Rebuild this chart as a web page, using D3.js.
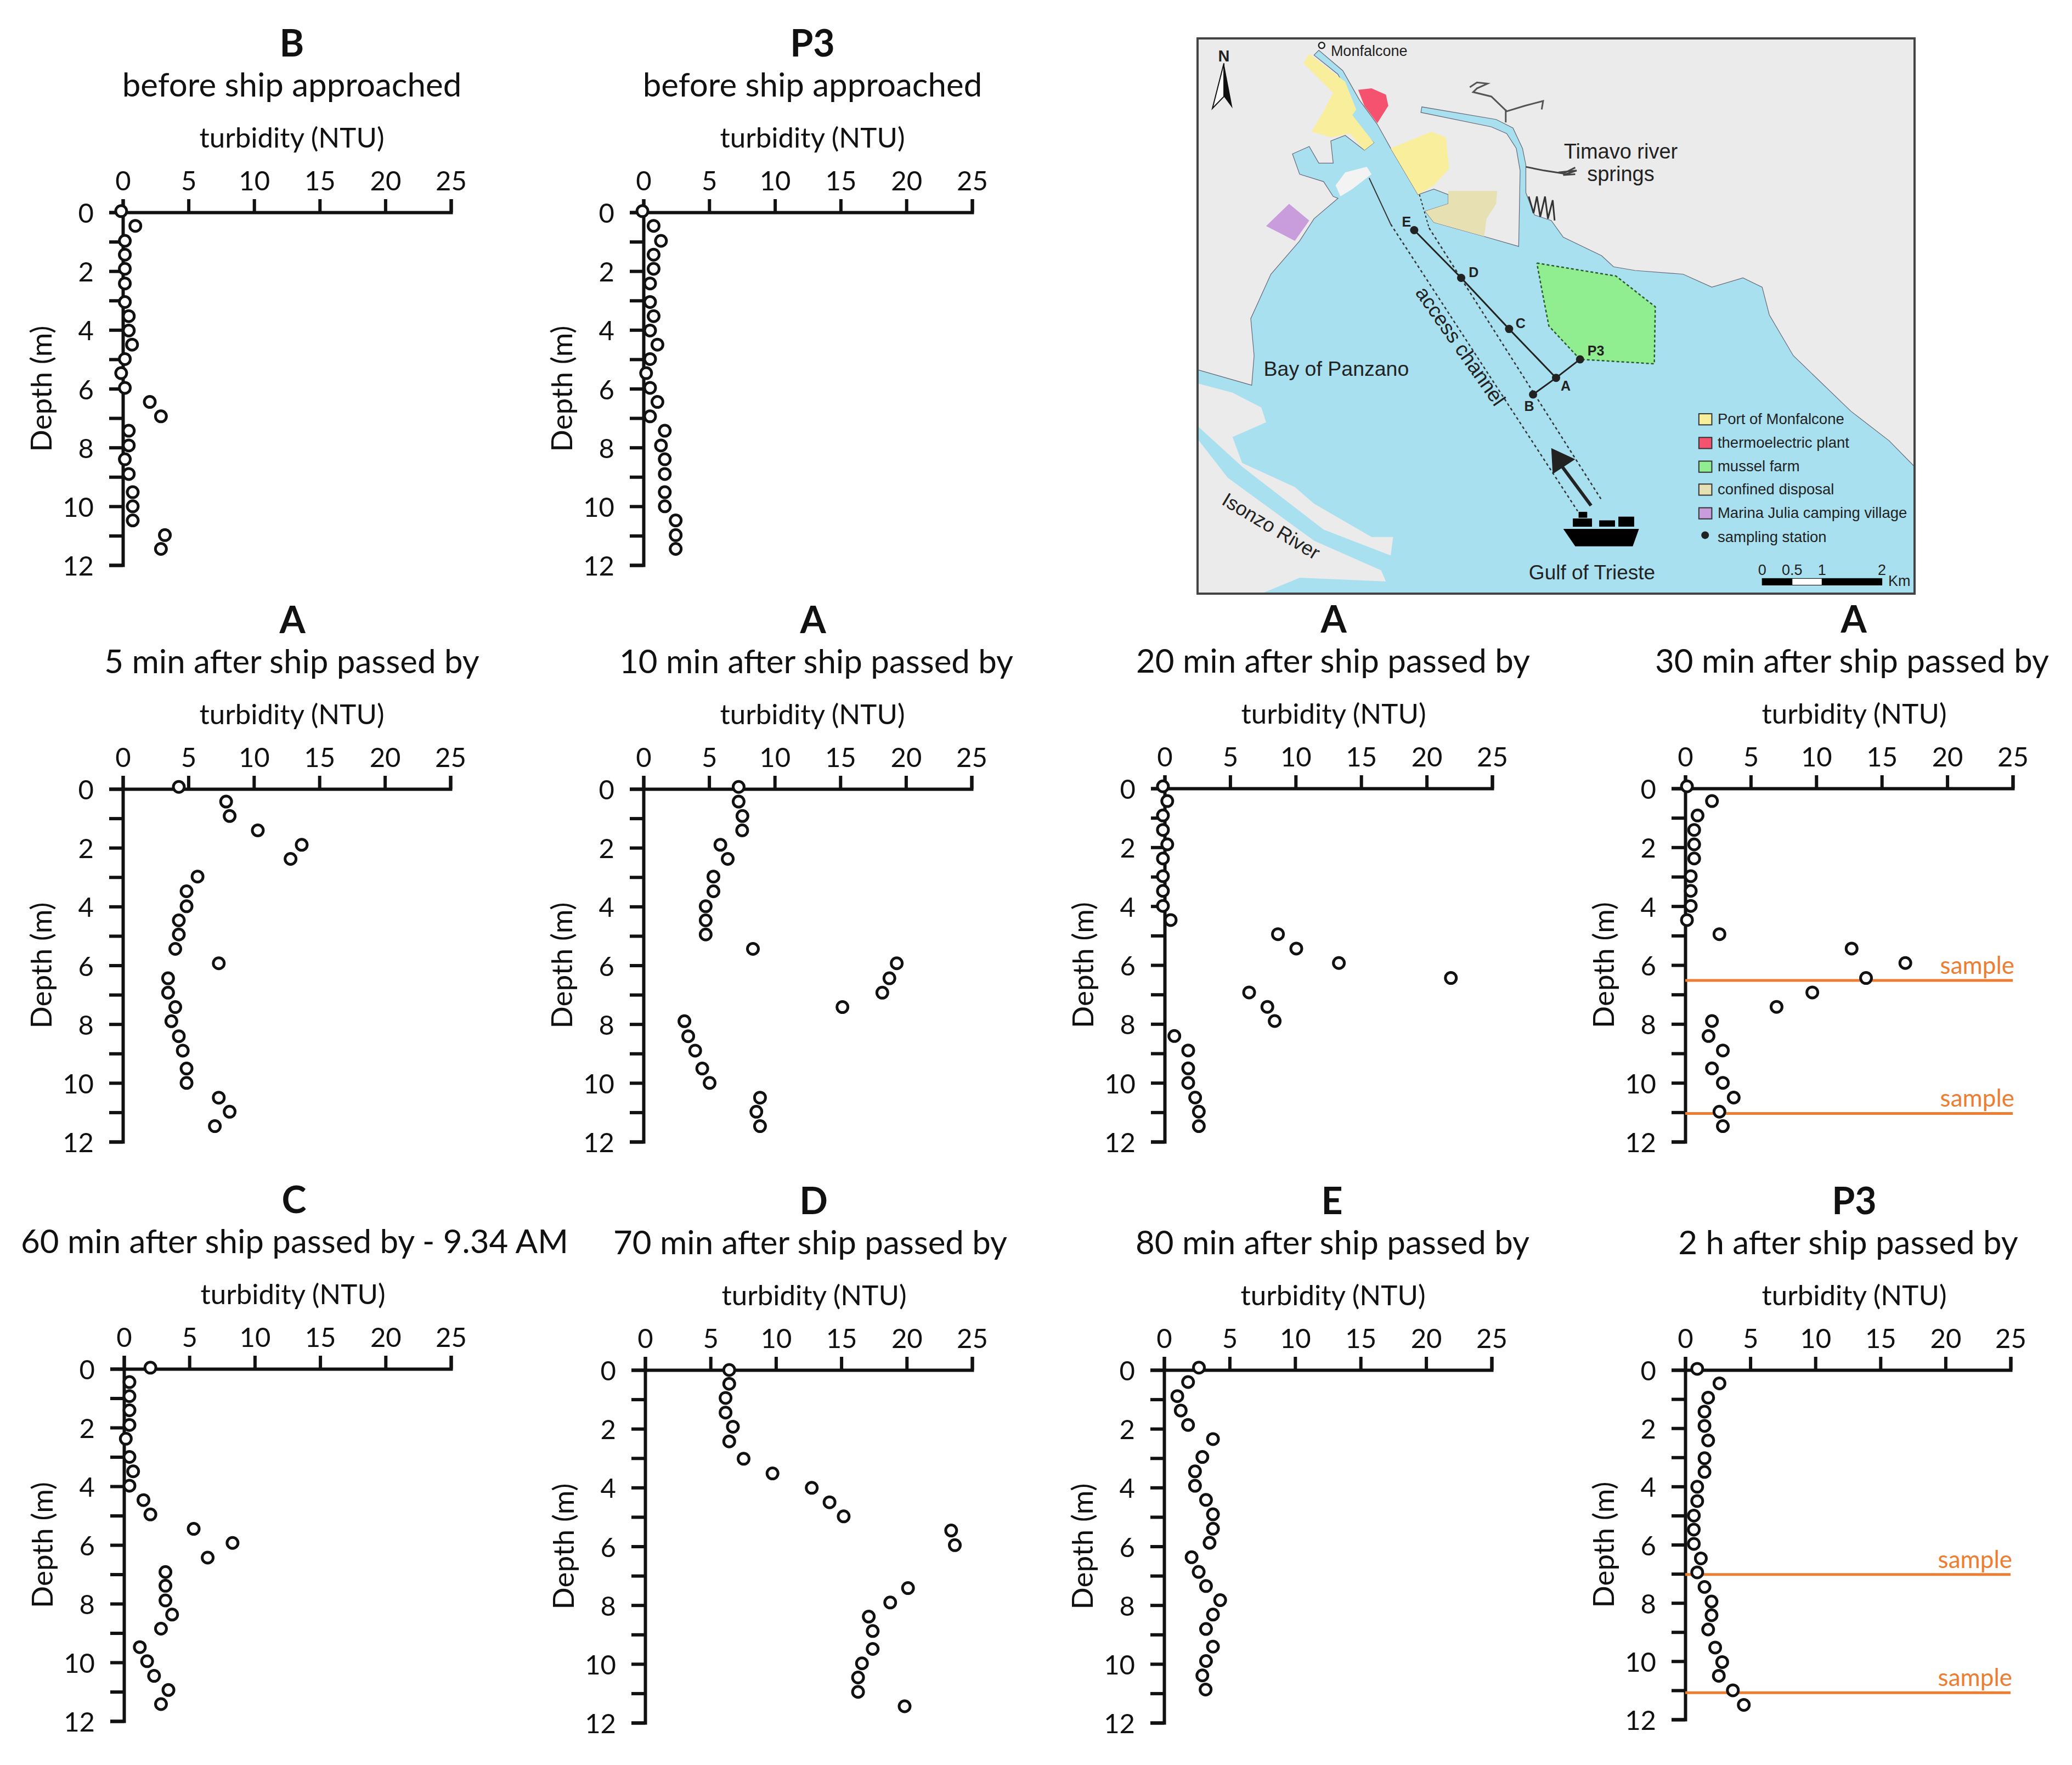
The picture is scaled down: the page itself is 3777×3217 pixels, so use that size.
<!DOCTYPE html>
<html>
<head>
<meta charset="utf-8">
<script src="https://cdn.jsdelivr.net/npm/d3@7"></script>
<style>
    html, body { margin: 0; padding: 0; background: #fff; }
    svg { display: block; }
</style>
</head>
<body>
<svg id="chart" width="3777" height="3217"></svg>
<script>
// depth (m) and turbidity (NTU)
const depthB = [-0.04, 0.46, 0.97, 1.44, 1.92, 2.42, 3.05, 3.53, 4.02, 4.5, 4.99, 5.47, 5.97, 6.45, 6.94, 7.43, 7.93, 8.4, 8.9, 9.52, 10, 10.48, 10.98, 11.45]
const turbB = [-0.13, 0.95, 0.15, 0.15, 0.15, 0.15, 0.15, 0.45, 0.45, 0.7, 0.15, -0.13, 0.15, 2.05, 2.9, 0.45, 0.45, 0.15, 0.45, 0.75, 0.75, 0.75, 3.2, 2.9]
const turbP3Before = [-0.08, 0.77, 1.33, 0.77, 0.77, 0.5, 0.5, 0.77, 0.5, 1.06, 0.5, 0.2, 0.5, 1.06, 0.5, 1.62, 1.33, 1.62, 1.62, 1.62, 1.62, 2.45, 2.45, 2.45]

const depthA = [-0.07, 0.43, 0.92, 1.41, 1.9, 2.38, 2.98, 3.48, 3.99, 4.47, 4.95, 5.44, 5.93, 6.44, 6.93, 7.42, 7.9, 8.41, 8.9, 9.51, 10, 10.5, 10.98, 11.47]
const turbA5 = [4.27, 7.88, 8.15, 10.3, 13.65, 12.8, 5.7, 4.86, 4.86, 4.27, 4.27, 4, 7.32, 3.45, 3.45, 4, 3.7, 4.27, 4.57, 4.86, 4.86, 7.32, 8.15, 7.02]
const turbA10 = [7.25, 7.25, 7.54, 7.52, 5.86, 6.42, 5.33, 5.33, 4.74, 4.74, 4.74, 8.34, 19.3, 18.74, 18.2, 15.16, 3.12, 3.41, 3.94, 4.48, 5.04, 8.88, 8.6, 8.88]
const turbA20 = [-0.13, 0.2, -0.13, -0.13, 0.2, -0.13, -0.13, -0.13, -0.13, 0.46, 8.65, 10.05, 13.3, 21.85, 6.45, 7.84, 8.4, 0.74, 1.8, 1.8, 1.8, 2.33, 2.61, 2.61]
const turbA30 = [0.13, 2.04, 0.94, 0.68, 0.68, 0.68, 0.42, 0.42, 0.42, 0.13, 2.61, 12.7, 16.8, 13.8, 9.7, 6.97, 2.04, 1.78, 2.87, 2.04, 2.87, 3.7, 2.61, 2.87]

const depthC = [-0.04, 0.45, 0.93, 1.41, 1.91, 2.38, 3, 3.49, 3.98, 4.47, 4.96, 5.45, 5.93, 6.43, 6.92, 7.39, 7.89, 8.37, 8.85, 9.48, 9.96, 10.46, 10.94, 11.42]
const turbC = [2.02, 0.42, 0.42, 0.42, 0.42, 0.14, 0.42, 0.7, 0.42, 1.49, 2.02, 5.33, 8.3, 6.4, 3.17, 3.17, 3.17, 3.68, 2.83, 1.21, 1.77, 2.3, 3.4, 2.83]
const depthD = [0, 0.47, 0.95, 1.45, 1.93, 2.43, 3.02, 3.52, 4.01, 4.5, 4.98, 5.46, 5.96, 7.42, 7.91, 8.39, 8.88, 9.49, 9.98, 10.46, 10.95, 11.44]
const turbD = [6.43, 6.43, 6.15, 6.15, 6.71, 6.43, 7.53, 9.74, 12.74, 14.1, 15.18, 23.4, 23.68, 20.1, 18.74, 17.1, 17.4, 17.4, 16.58, 16.28, 16.28, 19.84]
const depthE = [-0.08, 0.41, 0.89, 1.38, 1.87, 2.35, 2.96, 3.45, 3.94, 4.42, 4.91, 5.4, 5.88, 6.37, 6.87, 7.35, 7.83, 8.32, 8.81, 9.41, 9.9, 10.39, 10.87]
const turbE = [2.66, 1.83, 1.01, 1.27, 1.83, 3.73, 2.92, 2.36, 2.36, 3.2, 3.73, 3.73, 3.47, 2.1, 2.64, 3.2, 4.28, 3.73, 3.2, 3.73, 3.2, 2.92, 3.17]
const depthP3 = [-0.04, 0.46, 0.95, 1.43, 1.92, 2.42, 3.03, 3.5, 4.01, 4.5, 5, 5.48, 5.97, 6.47, 6.95, 7.45, 7.95, 8.42, 8.91, 9.53, 10.03, 10.5, 11, 11.5]
const turbP3After = [0.92, 2.63, 1.76, 1.48, 1.48, 1.76, 1.48, 1.48, 0.92, 0.92, 0.66, 0.66, 0.66, 1.2, 0.92, 1.48, 2.02, 2.02, 1.76, 2.3, 2.84, 2.58, 3.66, 4.5]

const stations = ['B', 'P3', 'A', 'A', 'A', 'A', 'C', 'D', 'E', 'P3']
const subtitles = ['before ship approached', 'before ship approached', '5 min after ship passed by', '10 min after ship passed by',
    '20 min after ship passed by', '30 min after ship passed by', '60 min after ship passed by - 9.34 AM',
    '70 min after ship passed by', '80 min after ship passed by', '2 h after ship passed by']
const profileDepths = [depthB, depthB, depthA, depthA, depthA, depthA, depthC, depthD, depthE, depthP3]
const profileTurbs = [turbB, turbP3Before, turbA5, turbA10, turbA20, turbA30, turbC, turbD, turbE, turbP3After]
const sampleDepths = [[], [], [], [], [], [6.52, 11.04], [], [], [], [7.02, 11.08]]

const turbTicks = [0, 5, 10, 15, 20, 25]
const depthTicks = [0, 1, 2, 3, 4, 5, 6, 7, 8, 9, 10, 11, 12]

// x0, x25, y0, y12, title centre, subtitle centre
const frames = [
    [224, 822, 387, 1030, 532, 532],
    [1173, 1772, 387, 1030, 1481, 1481],
    [224, 821, 1438, 2081, 533, 532],
    [1173, 1771, 1438, 2081, 1482, 1488],
    [2123, 2720, 1437, 2081, 2431, 2430],
    [3072, 3669, 1437, 2081, 3379, 3376],
    [226, 822, 2495, 3137, 536, 537],
    [1176, 1772, 2497, 3140, 1483, 1477],
    [2122, 2719, 2497, 3140, 2428, 2429],
    [3072, 3665, 2497, 3134, 3380, 3369]
]

// map outlines, in map units
const seaArea = [[37,938],[150,980],[155,900],[148,800],[190,680],[230,620],[250,590],[280,530],[330,475],[320,470],[300,430],[250,410],[235,355],[270,335],[290,380],[320,380],[315,320],[345,305],[385,345],[405,325],[350,250],[362,222],[330,140],[280,88],[290,75],[340,130],[375,210],[412,275],[440,340],[497,465],[530,450],[560,465],[560,490],[512,510],[530,540],[640,580],[707,605],[710,400],[702,340],[682,300],[650,282],[503,243],[505,228],[660,262],[695,285],[715,340],[722,385],[722,460],[740,520],[775,535],[800,580],[880,630],[905,660],[950,670],[1050,680],[1110,715],[1175,690],[1215,715],[1230,790],[1280,900],[1400,1050],[1480,1130],[1533,1200],[1533,1543],[37,1543]]
const deltaNorth = [[37,975],[110,1000],[170,1040],[180,1080],[110,1120],[130,1190],[240,1255],[280,1300],[400,1390],[445,1390],[440,1440],[300,1370],[130,1200],[37,1090]]
const deltaSouth = [[37,1125],[100,1230],[280,1400],[420,1480],[430,1510],[250,1500],[170,1543],[37,1543]]
const islet = [[335,470],[325,440],[345,405],[390,390],[400,410],[360,450]]
const portWest = [[258,110],[270,85],[345,160],[368,235],[360,250],[405,325],[385,345],[355,300],[315,310],[275,295],[300,240],[320,190]]
const portEast = [[440,340],[525,295],[555,310],[562,395],[530,440],[497,465]]
const thermoPlant = [[372,182],[400,178],[430,195],[435,225],[412,272],[385,225]]
const disposal = [[560,455],[662,455],[660,490],[640,530],[635,578],[530,540],[512,510],[560,490]]
const musselFarm = [[745,650],[910,685],[992,768],[990,922],[835,910],[770,820],[755,720]]
const marina = [[228,490],[270,535],[240,590],[218,575],[180,550]]
const timavoLower = [[722,390],[760,400],[800,408],[825,392]]
const timavoBranch = [[790,405],[828,400],[800,412],[825,410]]
const timavoUpper = [[605,175],[620,162],[642,165],[620,178],[612,188],[650,200],[682,240],[720,225],[758,212],[755,235]]
const timavoLink = [[680,235],[680,270]]
const hatching = [[728,470],[738,515],[745,470],[752,525],[762,470],[768,530],[778,480],[782,535]]
const channelWest = [[440,545],[830,1320]]
const channelEast = [[520,555],[880,1290]]
const channelUpper = [[395,420],[440,545]]
const channelUpperEast = [[500,465],[520,555]]
const stationLine = [[489,561],[587,690],[687,828],[785,960]]
const crossLine = [[737,1005],[785,960],[835,910]]
const stationDots = [[489,561],[587,690],[687,828],[785,960],[737,1005],[835,910]]
const stationNames = [['E',473,552],['D',613,688],['C',711,826],['A',805,995],['B',729,1050],['P3',868,900]]
const arrowShaft = [[858,1305],[795,1195]]
const arrowHead = [[775,1150],[825,1180],[778,1220]]
const northLeft = [[92,110],[68,232],[92,200]]
const northRight = [[92,110],[110,232],[92,200]]
const shipParts = [
    [[800,1368],[958,1368],[945,1415],[825,1415]],
    [[820,1340],[860,1340],[860,1362],[820,1362]],
    [[832,1322],[850,1322],[850,1338],[832,1338]],
    [[875,1345],[908,1345],[908,1362],[875,1362]],
    [[915,1335],[948,1335],[948,1362],[915,1362]]
]
const legendNames = ['Port of Monfalcone', 'thermoelectric plant', 'mussel farm', 'confined disposal', 'Marina Julia camping village']
const legendColors = ['#f9ee9b', '#f5526f', '#90ee90', '#e7e0b2', '#c99cdc']
const legendRows = [1072, 1136, 1200, 1262, 1326]
const scaleBarKm = [0, 0.5, 1, 2]

const seaColor = '#a8e0ef'
const landColor = '#ebebeb'
const orange = '#ed7d31'
const textFont = 'Lato'
const mapFont = "'Liberation Sans'"

const svg = d3.select('#chart')


class ProfilePanel {

    constructor(i) {
        let [x0, x25, y0, y12, titleX, subX] = frames[i]
        this.x = d3.scaleLinear().domain([0, 25]).range([x0, x25])
        this.y = d3.scaleLinear().domain([0, 12]).range([y0, y12])
        this.g = svg.append('g')
        this.drawAxes()
        this.drawTitles(i, titleX, subX, x0, y0, y12)
        this.drawSamples(sampleDepths[i])
        this.drawPoints(profileDepths[i], profileTurbs[i])
    }

    drawAxes() {
        let xAxis = d3.axisTop(this.x).tickValues(turbTicks).tickSize(24).tickPadding(16)
        let yAxis = d3.axisLeft(this.y).tickValues(depthTicks).tickSize(25).tickPadding(28)
            .tickFormat(d => d % 2 ? '' : d)

        let gx = this.g.append('g').attr('transform', `translate(0,${this.y(0)})`).call(xAxis)
        let gy = this.g.append('g').attr('transform', `translate(${this.x(0)},0)`).call(yAxis)

        for (let a of [gx, gy]) {
            a.selectAll('path, line').attr('stroke', '#111').attr('stroke-width', 6)
            a.selectAll('text').attr('fill', '#111').style('font', `49px ${textFont}`)
        }
        gy.selectAll('text').attr('dy', '0.38em')
    }

    drawTitles(i, titleX, subX, x0, y0, y12) {
        this.g.append('text').text(stations[i])
            .attr('x', titleX).attr('y', y0 - 284)
            .attr('text-anchor', 'middle').attr('fill', '#111')
            .style('font', `bold 68px ${textFont}`)
        this.g.append('text').text(subtitles[i])
            .attr('x', subX).attr('y', y0 - 211)
            .attr('text-anchor', 'middle').attr('fill', '#111')
            .style('font', `60px ${textFont}`)
        this.g.append('text').text('turbidity (NTU)')
            .attr('x', x0 + 308).attr('y', y0 - 118)
            .attr('text-anchor', 'middle').attr('fill', '#111')
            .style('font', `51px ${textFont}`)
        this.g.append('text').text('Depth (m)')
            .attr('transform', `translate(${x0 - 130},${(y0 + y12) / 2}) rotate(-90)`)
            .attr('text-anchor', 'middle').attr('fill', '#111')
            .style('font', `53px ${textFont}`)
    }

    drawSamples(depths) {
        this.g.selectAll('line.sample')
            .data(depths)
            .join('line')
            .attr('class', 'sample')
            .attr('x1', this.x(0)).attr('x2', this.x(25))
            .attr('y1', d => this.y(d)).attr('y2', d => this.y(d))
            .attr('stroke', orange).attr('stroke-width', 5)
        this.g.selectAll('text.sample')
            .data(depths)
            .join('text')
            .attr('class', 'sample')
            .text('sample')
            .attr('x', this.x(25) + 3).attr('y', d => this.y(d) - 12)
            .attr('text-anchor', 'end').attr('fill', orange)
            .style('font', `44px ${textFont}`)
    }

    drawPoints(depths, turbs) {
        this.g.selectAll('circle')
            .data(depths.map((d, k) => [turbs[k], d]))
            .join('circle')
            .attr('cx', d => this.x(d[0]))
            .attr('cy', d => this.y(d[1]))
            .attr('r', 10)
            .attr('fill', '#fff').attr('stroke', '#111').attr('stroke-width', 5)
    }
}


class AreaMap {

    constructor() {
        this.x = d3.scaleLinear().domain([37, 1533]).range([2183, 3490])
        this.y = d3.scaleLinear().domain([43, 1543]).range([70, 1082])
        this.line = d3.line().x(d => this.x(d[0])).y(d => this.y(d[1]))
        this.g = svg.append('g')

        this.g.append('rect')
            .attr('x', this.x(37)).attr('y', this.y(43))
            .attr('width', this.x(1533) - this.x(37)).attr('height', this.y(1543) - this.y(43))
            .attr('fill', landColor)

        this.area(seaArea, seaColor)
        this.path(seaArea.slice(0, 64), '#667', 1.2)
        this.area(deltaNorth, landColor)
        this.area(deltaSouth, landColor)
        this.area(islet, '#f3f3f3')
        this.area(portWest, legendColors[0])
        this.area(portEast, legendColors[0])
        this.area(thermoPlant, legendColors[1])
        this.area(disposal, legendColors[3])
        this.area(marina, legendColors[4])
        this.area(musselFarm, legendColors[2])
        this.path(musselFarm.concat([musselFarm[0]]), '#2a5a2a', 2.5, '5 4')

        this.path(timavoLower, '#444', 3)
        this.path(timavoBranch, '#444', 3)
        this.path(timavoUpper, '#555', 3)
        this.path(timavoLink, '#555', 3)
        this.path(hatching, '#333', 3)

        this.path(channelUpper, '#333', 2)
        this.path(channelUpperEast, '#333', 2, '4 4')
        this.path(channelWest, '#333', 2.5, '5 5')
        this.path(channelEast, '#333', 2.5, '5 5')
        this.path(stationLine, '#222', 3)
        this.path(crossLine, '#222', 3)
        this.path(arrowShaft, '#222', 6)
        this.area(arrowHead, '#222')
        shipParts.forEach(p => this.area(p, '#000'))

        this.area(northLeft, '#fff')
        this.path(northLeft.concat([northLeft[0]]), '#111', 2)
        this.area(northRight, '#111')

        this.g.selectAll('circle.station')
            .data(stationDots)
            .join('circle')
            .attr('class', 'station')
            .attr('cx', d => this.x(d[0])).attr('cy', d => this.y(d[1]))
            .attr('r', 7.5).attr('fill', '#222')

        for (let [name, px, py] of stationNames) {
            this.label(name, px, py, 25, 'bold', 'middle')
        }

        this.labels()
        this.legend()
        this.scaleBar()

        // frame goes on top of everything else
        this.g.append('rect')
            .attr('x', this.x(37)).attr('y', this.y(43))
            .attr('width', this.x(1533) - this.x(37)).attr('height', this.y(1543) - this.y(43))
            .attr('fill', 'none').attr('stroke', '#444').attr('stroke-width', 4)
    }

    area(points, color) {
        this.g.append('path').attr('d', this.line(points) + 'Z').attr('fill', color)
    }

    path(points, color, width, dash) {
        this.g.append('path').attr('d', this.line(points))
            .attr('fill', 'none').attr('stroke', color).attr('stroke-width', width)
            .attr('stroke-dasharray', dash || null)
    }

    label(text, px, py, size, weight, anchor, angle) {
        let t = this.g.append('text').text(text)
            .attr('text-anchor', anchor || 'start').attr('fill', '#222')
            .style('font', `${weight || 'normal'} ${size}px ${mapFont}`)
        t.attr('transform', `translate(${this.x(px)},${this.y(py)}) rotate(${angle || 0})`)
    }

    labels() {
        this.g.append('circle')
            .attr('cx', this.x(296)).attr('cy', this.y(62)).attr('r', 5.5)
            .attr('fill', '#fff').attr('stroke', '#222').attr('stroke-width', 2.5)
        this.label('N', 92, 105, 29, 'bold', 'middle')
        this.label('Monfalcone', 315, 91, 27)
        this.label('Timavo river', 920, 368, 38, 'normal', 'middle')
        this.label('springs', 920, 428, 38, 'normal', 'middle')
        this.label('Bay of Panzano', 175, 955, 37.5)
        this.label('access channel', 490, 730, 37, 'normal', 'start', 55)
        this.label('Isonzo River', 85, 1300, 36, 'normal', 'start', 31)
        this.label('Gulf of Trieste', 860, 1505, 37, 'normal', 'middle')
    }

    legend() {
        this.g.selectAll('rect.legend')
            .data(legendRows)
            .join('rect')
            .attr('class', 'legend')
            .attr('x', this.x(1083)).attr('y', d => this.y(d - 15))
            .attr('width', this.x(1110) - this.x(1083)).attr('height', this.y(30) - this.y(0))
            .attr('fill', (d, i) => legendColors[i]).attr('stroke', '#333').attr('stroke-width', 2)
        legendNames.forEach((name, i) => this.label(name, 1122, legendRows[i] + 13, 27.5))
        this.g.append('circle')
            .attr('cx', this.x(1096)).attr('cy', this.y(1385)).attr('r', 7).attr('fill', '#222')
        this.label('sampling station', 1122, 1403, 27.5)
    }

    scaleBar() {
        let km = d3.scaleLinear().domain([0, 2]).range([1215, 1465])
        let segments = [[0, 0.5, '#000'], [0.5, 1, '#fff'], [1, 2, '#000']]
        this.g.selectAll('rect.bar')
            .data(segments)
            .join('rect')
            .attr('class', 'bar')
            .attr('x', d => this.x(km(d[0]))).attr('y', this.y(1502))
            .attr('width', d => this.x(km(d[1])) - this.x(km(d[0]))).attr('height', this.y(1520) - this.y(1502))
            .attr('fill', d => d[2]).attr('stroke', '#000').attr('stroke-width', 1)
        scaleBarKm.forEach(v => this.label(v, km(v), 1492, 27, 'normal', 'middle'))
        this.label('Km', 1478, 1522, 27)
    }
}


new AreaMap()
frames.forEach((f, i) => new ProfilePanel(i))
</script>
</body>
</html>
